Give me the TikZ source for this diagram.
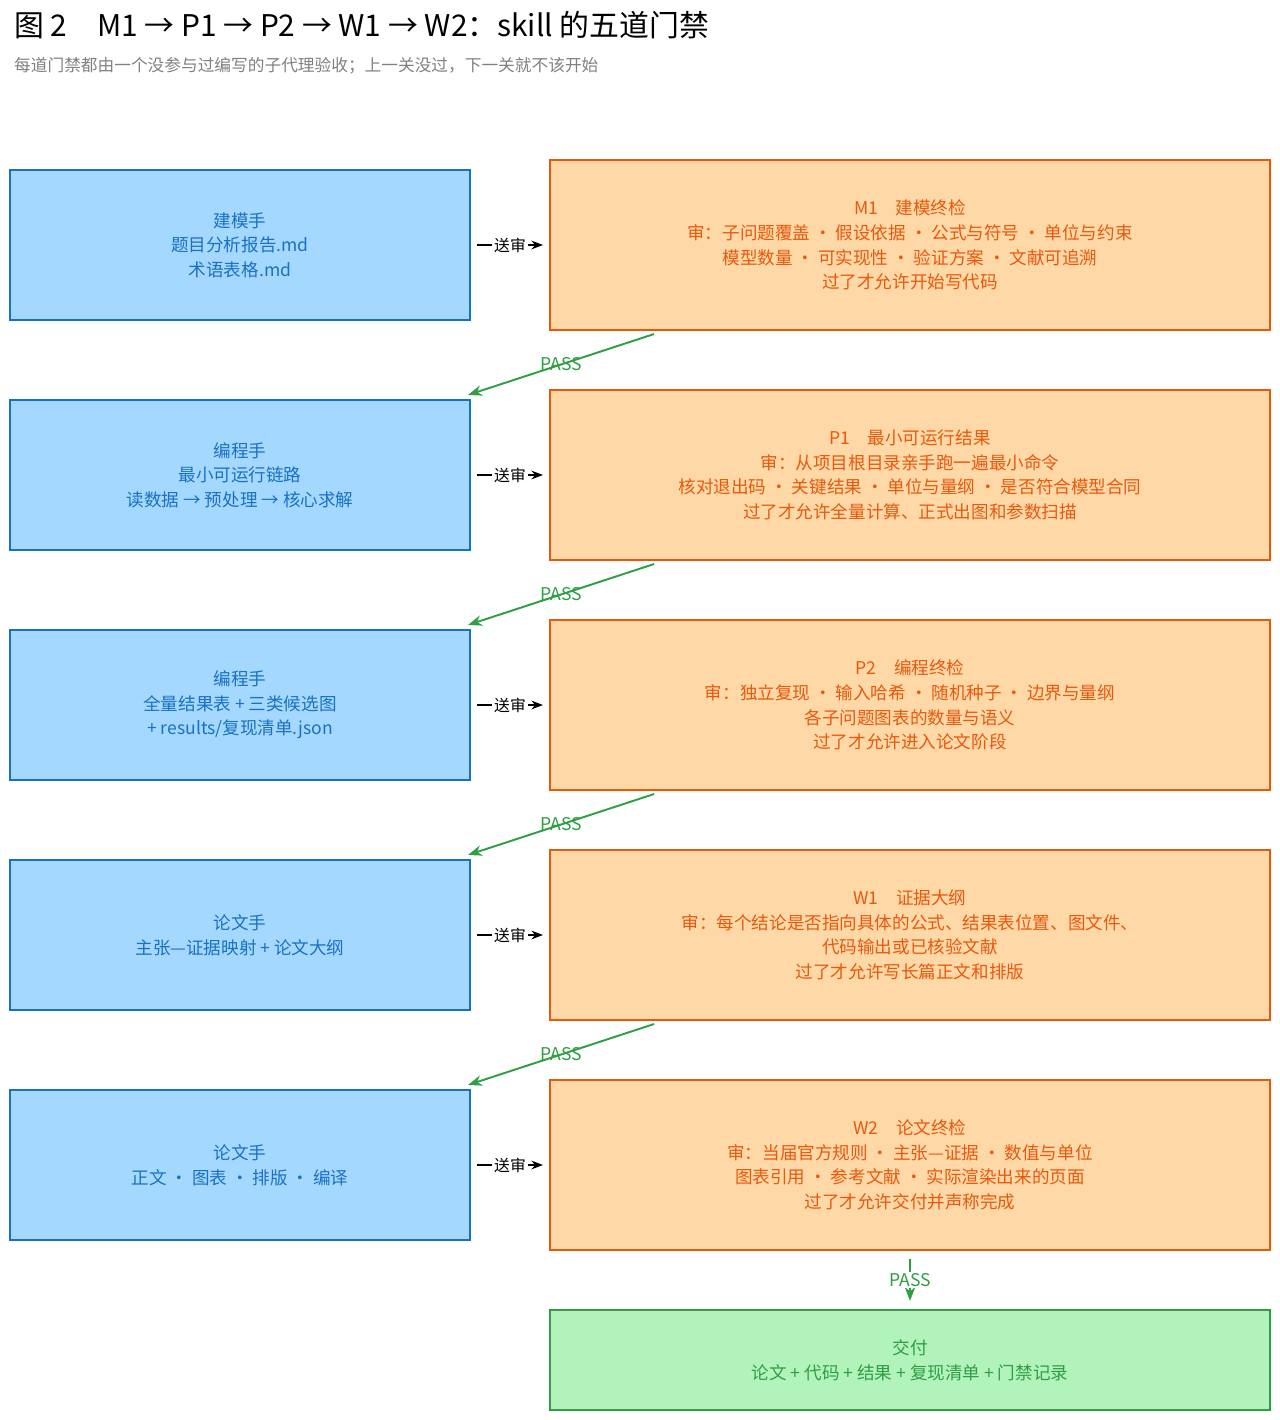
\documentclass[tikz,border=0pt]{standalone}
\usepackage{fontspec}
\setmainfont{Noto Sans CJK SC}
\usetikzlibrary{calc,arrows.meta}
\definecolor{bluefill}{HTML}{A5D8FF}
\definecolor{bluedraw}{HTML}{1971C2}
\definecolor{orfill}{HTML}{FFD8A8}
\definecolor{ordraw}{HTML}{E8590C}
\definecolor{grfill}{HTML}{B2F2BB}
\definecolor{grdraw}{HTML}{2F9E44}
\tikzset{
  role/.style={draw=bluedraw,fill=bluefill,text=bluedraw,line width=1.2pt,
    minimum width=9.2cm,minimum height=3cm,align=center,font=\fontsize{10}{14}\selectfont},
  gate/.style={draw=ordraw,fill=orfill,text=ordraw,line width=1.2pt,
    minimum width=14.4cm,minimum height=3.4cm,align=center,font=\fontsize{10}{14}\selectfont},
  done/.style={draw=grdraw,fill=grfill,text=grdraw,line width=1.2pt,
    minimum width=14.4cm,minimum height=2cm,align=center,font=\fontsize{10}{14}\selectfont},
  review/.style={->,>={Stealth},thick},
  pass/.style={->,>={Stealth[length=8pt]},grdraw,line width=1.1pt},
  passlabel/.style={text=grdraw,font=\fontsize{10}{12}\selectfont,inner sep=1pt}
}
\begin{document}
\begin{tikzpicture}[x=0.02cm,y=-0.02cm]
   \useasboundingbox (0,0) rectangle (1280,1420);
   \node[anchor=west,font=\fontsize{17}{20}\selectfont] (title) at (8,25) {图 2\quad M1 → P1 → P2 → W1 → W2：skill 的五道门禁};
   \node[anchor=west,text=gray,font=\fontsize{9.5}{11}\selectfont] (sub) at (8,66) {每道门禁都由一个没参与过编写的子代理验收；上一关没过，下一关就不该开始};

   % left column: roles
   \node[role] (l1) at (240,245) {建模手\\题目分析报告.md\\术语表格.md};
   \node[role] (l2) at (240,475) {编程手\\最小可运行链路\\读数据 → 预处理 → 核心求解};
   \node[role] (l3) at (240,705) {编程手\\全量结果表 + 三类候选图\\+ results/复现清单.json};
   \node[role] (l4) at (240,935) {论文手\\主张—证据映射 + 论文大纲};
   \node[role] (l5) at (240,1165) {论文手\\正文 · 图表 · 排版 · 编译};

   % right column: gates
   \node[gate] (r1) at (910,245) {M1\quad 建模终检\\审：子问题覆盖 · 假设依据 · 公式与符号 · 单位与约束\\模型数量 · 可实现性 · 验证方案 · 文献可追溯\\过了才允许开始写代码};
   \node[gate] (r2) at (910,475) {P1\quad 最小可运行结果\\审：从项目根目录亲手跑一遍最小命令\\核对退出码 · 关键结果 · 单位与量纲 · 是否符合模型合同\\过了才允许全量计算、正式出图和参数扫描};
   \node[gate] (r3) at (910,705) {P2\quad 编程终检\\审：独立复现 · 输入哈希 · 随机种子 · 边界与量纲\\各子问题图表的数量与语义\\过了才允许进入论文阶段};
   \node[gate] (r4) at (910,935) {W1\quad 证据大纲\\审：每个结论是否指向具体的公式、结果表位置、图文件、\\代码输出或已核验文献\\过了才允许写长篇正文和排版};
   \node[gate] (r5) at (910,1165) {W2\quad 论文终检\\审：当届官方规则 · 主张—证据 · 数值与单位\\图表引用 · 参考文献 · 实际渲染出来的页面\\过了才允许交付并声称完成};
   \node[done] (d) at (910,1360) {交付\\论文 + 代码 + 结果 + 复现清单 + 门禁记录};

   \foreach \i in {1,...,5}
     \draw[review] ($(l\i.east)+(6,0)$) -- node[fill=white,inner sep=1pt,font=\fontsize{9}{10}\selectfont] {送审} ($(r\i.west)+(-6,0)$);

   \foreach \i/\j in {1/2,2/3,3/4,4/5}
     \draw[pass] ($(r\i.south west)+(105,3)$) -- node[passlabel] {PASS} ($(l\j.north east)+(-3,-4)$);

   \draw[pass] ($(r5.south)+(0,8)$) -- node[passlabel,fill=white] {PASS} ($(d.north)+(0,-8)$);
\end{tikzpicture}
\end{document}
